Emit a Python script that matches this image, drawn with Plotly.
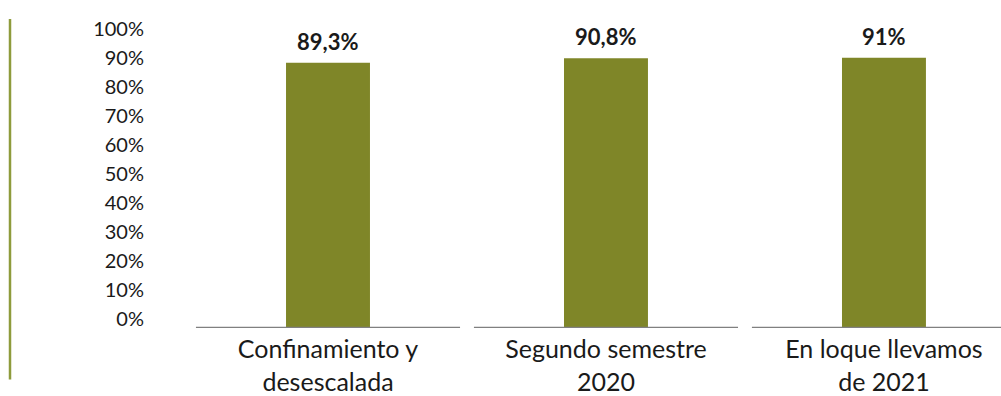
import plotly.graph_objects as go

# Survey share per period (percent)
categories = ["Confinamiento y<br>desescalada", "Segundo semestre<br>2020", "En loque llevamos<br>de 2021"]
values = [89.3, 90.8, 91.0]
y_ticks = list(range(0, 101, 10))
y_tick_labels = [f"{t}%" for t in y_ticks]

BAR_COLOR = "#7F8628"
ACCENT = "#8E9B3C"
AXIS_GRAY = "#808080"
TEXT = "#1A1A1A"
FONT = "Lato"

# Plot area geometry (pixels)
PLOT_TOP, PLOT_BOTTOM, PLOT_LEFT = 20, 331, 189
PLOT_H = PLOT_BOTTOM - PLOT_TOP
PX_PER_PCT = 3.0          # bar scale
LABEL_PX_PER_PCT = 2.93   # percentage scale labels
LABEL_ZERO_OFFSET = 9     # scale labels start a little above the baseline


def fmt(v):
    if float(v).is_integer():
        return f"{int(v)}%"
    return f"{v:.1f}".replace(".", ",") + "%"


xs = list(range(len(categories)))

fig = go.Figure()
fig.add_trace(
    go.Bar(
        x=xs,
        y=values,
        width=0.302,
        marker=dict(color=BAR_COLOR, line=dict(width=0)),
        hoverinfo="skip",
    )
)
# Invisible companion trace so the percentage scale axis is rendered
fig.add_trace(
    go.Scatter(x=xs, y=values, yaxis="y2", mode="none",
               hoverinfo="skip", showlegend=False)
)

# Value labels above each bar
for x, v in zip(xs, values):
    fig.add_annotation(
        x=x, y=v, xref="x", yref="y",
        text=f"<b>{fmt(v)}</b>",
        showarrow=False, yanchor="bottom", yshift=6,
        font=dict(family=FONT, size=22, color=TEXT),
    )

# Baseline segments under each category, with small gaps between them
for x in xs:
    fig.add_shape(
        type="line", xref="x", yref="y",
        x0=x - 0.475, x1=x + 0.475, y0=0, y1=0,
        line=dict(color=AXIS_GRAY, width=2.5),
    )

# Decorative vertical rule at the far left
fig.add_shape(
    type="line", xref="paper", yref="paper",
    x0=(10 - PLOT_LEFT) / (1001 - PLOT_LEFT), x1=(10 - PLOT_LEFT) / (1001 - PLOT_LEFT),
    y0=-(383 - PLOT_BOTTOM) / PLOT_H, y1=1 + (PLOT_TOP - 19) / PLOT_H,
    line=dict(color=ACCENT, width=2.5),
)

y2_lo = -LABEL_ZERO_OFFSET / LABEL_PX_PER_PCT
y2_hi = (PLOT_H - LABEL_ZERO_OFFSET) / LABEL_PX_PER_PCT

fig.update_layout(
    width=1001, height=396,
    margin=dict(l=PLOT_LEFT, r=0, t=PLOT_TOP, b=396 - PLOT_BOTTOM),
    paper_bgcolor="white", plot_bgcolor="white",
    showlegend=False,
    font=dict(family=FONT, color=TEXT),
    xaxis=dict(
        range=[-0.5, 2.421],
        tickmode="array", tickvals=xs, ticktext=categories,
        showgrid=False, zeroline=False, showline=False,
        ticks="", tickfont=dict(family=FONT, size=25, color=TEXT),
        ticklabelstandoff=4,
    ),
    yaxis=dict(
        range=[0, PLOT_H / PX_PER_PCT],
        showticklabels=False,
        showgrid=False, zeroline=False, showline=False, ticks="",
    ),
    yaxis2=dict(
        overlaying="y", side="left",
        range=[y2_lo, y2_hi],
        tickmode="array", tickvals=y_ticks, ticktext=y_tick_labels,
        showgrid=False, zeroline=False, showline=False,
        ticks="", tickfont=dict(family=FONT, size=20, color=TEXT),
        ticklabelstandoff=44,
    ),
)

fig.write_html("out.html")
